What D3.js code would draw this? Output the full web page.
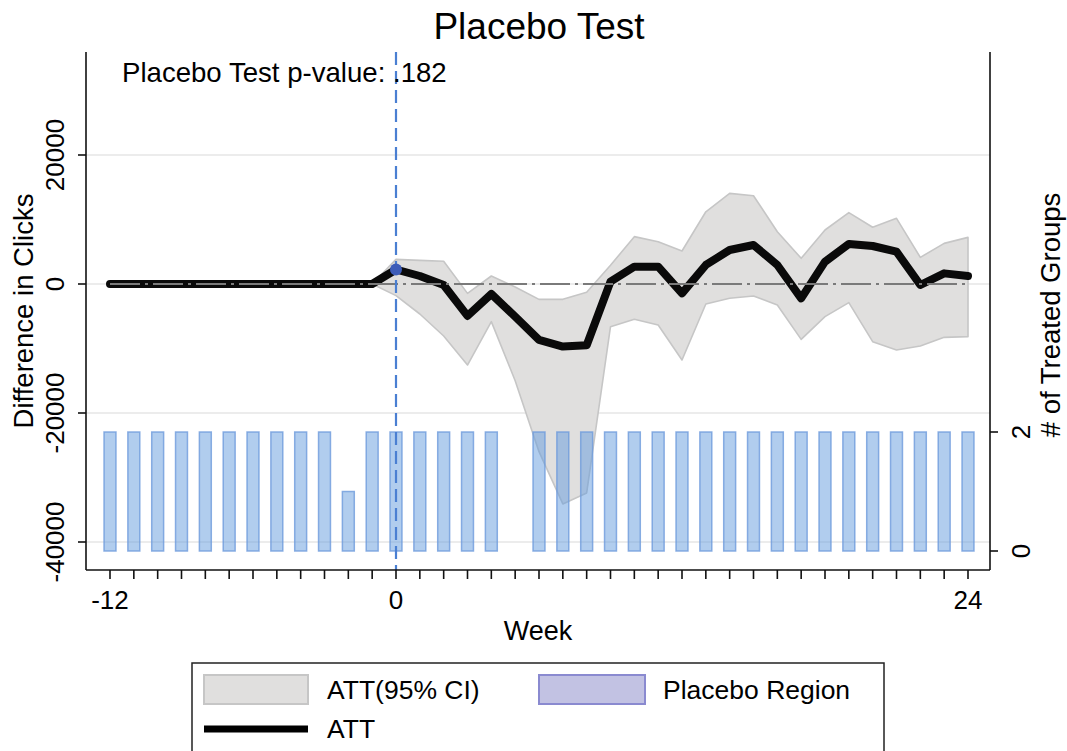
<!DOCTYPE html>
<html>
<head>
<meta charset="utf-8">
<script src="https://cdn.jsdelivr.net/npm/d3@7"></script>
<style>
  html, body { margin: 0; padding: 0; background: #fff; }
  svg { display: block; font-family: "Liberation Sans", Arial, Helvetica, sans-serif; }
</style>
</head>
<body>
<svg id="chart" width="1067" height="751"></svg>
<script>
// ---------- data ----------
const weeks = [-12,-11,-10,-9,-8,-7,-6,-5,-4,-3,-2,-1,0,1,2,3,4,5,6,7,8,9,10,11,12,13,14,15,16,17,18,19,20,21,22,23,24];
const att = [0,0,0,0,0,0,0,0,0,0,0,0,
  2250,1240,-150,-4950,-1550,-5050,-8650,-9700,-9500,360,2690,2690,-1450,2950,5270,6050,2950,-2220,3460,6200,5890,5010,-155,1650,1240];
const ciUpper = [0,0,0,0,0,0,0,0,0,0,0,0,
  3820,3670,3520,-1450,1240,-470,-2380,-2380,-1290,2900,7340,6560,5120,11200,14050,13690,8110,3980,8370,11060,8790,10180,4130,6300,7230];
const ciLower = [0,0,0,0,0,0,0,0,0,0,0,0,
  -1800,-4650,-8060,-12560,-5840,-15000,-26000,-34100,-32400,-6620,-5475,-6360,-11780,-3100,-2220,-1860,-3250,-8580,-5060,-2890,-8940,-10230,-9610,-8270,-8160];
const treated = [2,2,2,2,2,2,2,2,2,2,1,2,2,2,2,2,2,0,2,2,2,2,2,2,2,2,2,2,2,2,2,2,2,2,2,2,2];
const xTickLabels = [-12, 0, 24];
const yTicks = [-40000, -20000, 0, 20000];
const y2Ticks = [0, 2];
const pValueText = "Placebo Test p-value: .182";

// ---------- layout ----------
const svg = d3.select("#chart");
const plotL = 86, plotR = 990, plotT = 52, plotB = 570;

const x = d3.scaleLinear().domain([-12, 24]).range([110, 968]);
const y = d3.scaleLinear().domain([-40000, 20000]).range([542, 155]);
const y2 = d3.scaleLinear().domain([0, 2]).range([551, 432]);

const rows = weeks.map((w, i) => ({ w, att: att[i], lo: ciLower[i], hi: ciUpper[i], n: treated[i] }));

// gridlines
svg.append("g").selectAll("line").data(yTicks).join("line")
  .attr("x1", plotL).attr("x2", plotR)
  .attr("y1", d => y(d)).attr("y2", d => y(d))
  .attr("stroke", "#e6e6e6").attr("stroke-width", 1.5);

// CI band
const area = d3.area().x(d => x(d.w)).y0(d => y(d.lo)).y1(d => y(d.hi));
svg.append("path").datum(rows.filter(d => d.w >= -1))
  .attr("d", area)
  .attr("fill", "#e0dfde").attr("stroke", "#c6c6c6").attr("stroke-width", 1.6)
  .attr("stroke-linejoin", "round");

// ATT line
const line = d3.line().x(d => x(d.w)).y(d => y(d.att));
svg.append("path").datum(rows)
  .attr("d", line)
  .attr("fill", "none").attr("stroke", "#0a0a0a").attr("stroke-width", 8)
  .attr("stroke-linejoin", "round").attr("stroke-linecap", "round");

// zero dash-dot line
svg.append("line")
  .attr("x1", x(-12)).attr("x2", x(24)).attr("y1", y(0)).attr("y2", y(0))
  .attr("stroke", "#7a7a7a").attr("stroke-width", 2)
  .attr("stroke-dasharray", "30,5,3,5");

// bars (number of treated groups)
const bw = x(0.25) - x(-0.25);
svg.append("g").selectAll("rect").data(rows.filter(d => d.n > 0)).join("rect")
  .attr("x", d => x(d.w) - bw / 2).attr("width", bw)
  .attr("y", d => y2(d.n)).attr("height", d => y2(0) - y2(d.n))
  .attr("fill", "rgb(100,155,222)").attr("fill-opacity", 0.5)
  .attr("stroke", "rgb(110,155,220)").attr("stroke-opacity", 0.8).attr("stroke-width", 1.5);

// vertical dashed line at week 0
svg.append("line")
  .attr("x1", x(0)).attr("x2", x(0)).attr("y1", plotT).attr("y2", plotB)
  .attr("stroke", "#4a7fd2").attr("stroke-width", 2.2)
  .attr("stroke-dasharray", "13,6");

// dot at week 0
svg.append("circle")
  .attr("cx", x(0)).attr("cy", y(att[weeks.indexOf(0)])).attr("r", 6)
  .attr("fill", "#3d5cb8");

// axes
const axisG = svg.append("g").attr("stroke", "#111").attr("stroke-width", 1.6);
axisG.append("line").attr("x1", plotL).attr("x2", plotL).attr("y1", plotT).attr("y2", plotB);
axisG.append("line").attr("x1", plotR).attr("x2", plotR).attr("y1", plotT).attr("y2", plotB);
axisG.append("line").attr("x1", plotL).attr("x2", plotR).attr("y1", plotB).attr("y2", plotB);

// left ticks
const gl = svg.append("g");
gl.selectAll("line").data(yTicks).join("line")
  .attr("x1", plotL - 8).attr("x2", plotL).attr("y1", d => y(d)).attr("y2", d => y(d))
  .attr("stroke", "#111").attr("stroke-width", 1.6);
gl.selectAll("text").data(yTicks).join("text")
  .attr("transform", d => `translate(64,${y(d)}) rotate(-90)`)
  .attr("text-anchor", "middle").attr("font-size", 26).attr("fill", "#000")
  .text(d => d);

// right ticks
const gr = svg.append("g");
gr.selectAll("line").data(y2Ticks).join("line")
  .attr("x1", plotR).attr("x2", plotR + 8).attr("y1", d => y2(d)).attr("y2", d => y2(d))
  .attr("stroke", "#111").attr("stroke-width", 1.6);
gr.selectAll("text").data(y2Ticks).join("text")
  .attr("transform", d => `translate(1030,${y2(d)}) rotate(-90)`)
  .attr("text-anchor", "middle").attr("font-size", 26).attr("fill", "#000")
  .text(d => d);

// bottom ticks
const gb = svg.append("g");
gb.selectAll("line").data(weeks).join("line")
  .attr("x1", d => x(d)).attr("x2", d => x(d)).attr("y1", plotB).attr("y2", plotB + 9)
  .attr("stroke", "#111").attr("stroke-width", 1.6);
gb.selectAll("text").data(xTickLabels).join("text")
  .attr("x", d => x(d)).attr("y", 609)
  .attr("text-anchor", "middle").attr("font-size", 26).attr("fill", "#000")
  .text(d => d);

// titles
svg.append("text").attr("x", 539).attr("y", 39).attr("text-anchor", "middle")
  .attr("font-size", 37).attr("fill", "#000").text("Placebo Test");
svg.append("text").attr("x", 122).attr("y", 82)
  .attr("font-size", 27.6).attr("fill", "#000").text(pValueText);
svg.append("text").attr("x", 538).attr("y", 640).attr("text-anchor", "middle")
  .attr("font-size", 27).attr("fill", "#000").text("Week");
svg.append("text").attr("transform", "translate(33,311) rotate(-90)").attr("text-anchor", "middle")
  .attr("font-size", 27.5).attr("fill", "#000").text("Difference in Clicks");
svg.append("text").attr("transform", "translate(1060,315) rotate(-90)").attr("text-anchor", "middle")
  .attr("font-size", 27.5).attr("fill", "#000").text("# of Treated Groups");

// legend
const lg = svg.append("g");
lg.append("rect").attr("x", 192).attr("y", 663).attr("width", 692).attr("height", 110)
  .attr("fill", "#fff").attr("stroke", "#222").attr("stroke-width", 1.5);
lg.append("rect").attr("x", 204).attr("y", 675).attr("width", 104).attr("height", 29)
  .attr("fill", "#e0dfde").attr("stroke", "#c6c6c6").attr("stroke-width", 2);
lg.append("text").attr("x", 327).attr("y", 699).attr("font-size", 26.5).attr("fill", "#000").text("ATT(95% CI)");
lg.append("rect").attr("x", 539).attr("y", 675).attr("width", 106).attr("height", 29)
  .attr("fill", "#c2c2e3").attr("stroke", "#8a8ad0").attr("stroke-width", 2);
lg.append("text").attr("x", 663).attr("y", 699).attr("font-size", 26.5).attr("fill", "#000").text("Placebo Region");
lg.append("line").attr("x1", 204).attr("x2", 308).attr("y1", 729).attr("y2", 729)
  .attr("stroke", "#000").attr("stroke-width", 7);
lg.append("text").attr("x", 327).attr("y", 738).attr("font-size", 26.5).attr("fill", "#000").text("ATT");
</script>
</body>
</html>
